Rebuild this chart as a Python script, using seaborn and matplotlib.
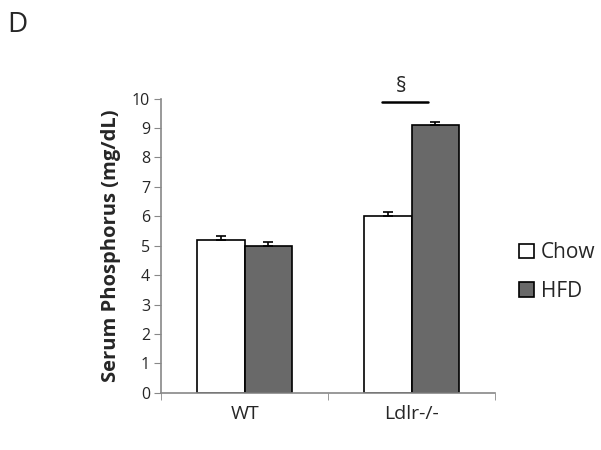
import pandas as pd
import numpy as np
import matplotlib.pyplot as plt
import seaborn as sns

groups = ['WT', 'Ldlr-/-']
diets = ['Chow', 'HFD']
chow_vals = [5.2, 6.0]
hfd_vals = [5.0, 9.1]
chow_err = [0.13, 0.14]
hfd_err = [0.14, 0.12]

df = pd.DataFrame({
    'group': groups * 2,
    'diet': ['Chow'] * 2 + ['HFD'] * 2,
    'value': chow_vals + hfd_vals,
    'err': chow_err + hfd_err,
})

sns.set_style('white')
plt.rcParams['font.family'] = ['Open Sans', 'DejaVu Sans']

fig = plt.figure(figsize=(6.01, 4.5), dpi=100)
ax = fig.add_axes([0.268, 0.127, 0.556, 0.654])

sns.barplot(data=df, x='group', y='value', hue='diet', order=groups, hue_order=diets,
            palette={'Chow': 'white', 'HFD': '#696969'}, edgecolor='black', linewidth=1.2,
            width=0.57, gap=0, errorbar=None, ax=ax, legend=True)

# upward-only error bars
for cont, d in zip(ax.containers, diets):
    sub = df[df['diet'] == d].set_index('group').loc[groups]
    for bar, v, e in zip(cont, sub['value'], sub['err']):
        cx = bar.get_x() + bar.get_width() / 2
        ax.errorbar(cx, v, yerr=[[0], [e]], fmt='none', ecolor='black',
                    elinewidth=1.2, capsize=3.5, capthick=1.2)

ax.set_ylim(0, 10)
ax.set_xlim(-0.5, 1.5)
ax.set_yticks(range(0, 11))
ax.set_xlabel('')
ax.set_ylabel('Serum Phosphorus (mg/dL)', fontsize=14.5, fontweight='bold', labelpad=8)
ax.tick_params(axis='y', labelsize=11.5, length=5, color='#888888', direction='out', left=True, pad=3)
ax.tick_params(axis='x', labelsize=14, length=0, pad=9)
ax.set_xticks([-0.5, 0.5, 1.5], minor=True)
ax.tick_params(axis='x', which='minor', length=5, color='#888888', bottom=True)
for s in ['top', 'right']:
    ax.spines[s].set_visible(False)
for s in ['left', 'bottom']:
    ax.spines[s].set_color('#888888')
    ax.spines[s].set_linewidth(1.2)

# significance marker
ax.plot([0.823, 1.099], [9.88, 9.88], color='black', lw=1.8, clip_on=False)
ax.text(0.94, 10.05, '§', ha='center', va='bottom', fontsize=15, clip_on=False)

leg = ax.legend(loc='center left', bbox_to_anchor=(1.015, 0.41), frameon=False,
                fontsize=15, handlelength=0.7, handleheight=0.7, handletextpad=0.35,
                labelspacing=0.85)

fig.text(0.012, 0.975, 'D', fontsize=20, va='top', ha='left')

fig.savefig('out.png', dpi=100)
